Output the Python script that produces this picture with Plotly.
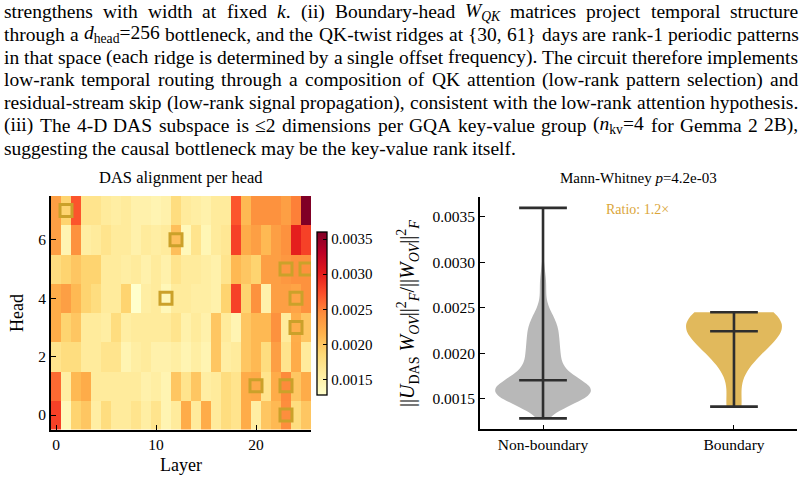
import re
import numpy as np
import plotly.graph_objects as go

# ---------------- data ----------------
layers = list(range(26))
heads = list(range(8))

# DAS alignment per head: rows = head 0..7, columns = layer 0..25
das_alignment = [
    [0.0028, 0.0014, 0.0019, 0.0020, 0.00155, 0.0018, 0.0016, 0.0016, 0.0017, 0.00155, 0.0017, 0.00145, 0.0016,
     0.0022, 0.0016, 0.0022, 0.0016, 0.0018, 0.0017, 0.0022, 0.00155, 0.0020, 0.0021, 0.00243, 0.0018, 0.0020],
    [0.0026, 0.00155, 0.0021, 0.0022, 0.0016, 0.0016, 0.0016, 0.0016, 0.0016, 0.0015, 0.00155, 0.00145, 0.0020,
     0.0017, 0.0020, 0.00155, 0.0016, 0.0018, 0.0017, 0.0022, 0.00222, 0.0017, 0.0022, 0.00245, 0.0020, 0.0022],
    [0.0017, 0.0018, 0.0018, 0.0016, 0.0016, 0.0017, 0.0017, 0.00145, 0.00155, 0.0016, 0.0015, 0.0015, 0.00155,
     0.00145, 0.00155, 0.00145, 0.0020, 0.00155, 0.0016, 0.0020, 0.0021, 0.0018, 0.0023, 0.0017, 0.0022, 0.0016],
    [0.0022, 0.0019, 0.0020, 0.0016, 0.0016, 0.00155, 0.0018, 0.00155, 0.0016, 0.0016, 0.0016, 0.0016, 0.0017,
     0.0015, 0.0016, 0.0015, 0.0020, 0.0016, 0.00145, 0.0020, 0.0021, 0.0021, 0.0024, 0.0016, 0.00218, 0.0020],
    [0.0022, 0.0023, 0.0021, 0.0019, 0.0018, 0.0016, 0.0016, 0.0019, 0.00128, 0.00155, 0.0016, 0.00141, 0.0016,
     0.0016, 0.00155, 0.00155, 0.0015, 0.0019, 0.0028, 0.0019, 0.0024, 0.0015, 0.0023, 0.0023, 0.00226, 0.0024],
    [0.0018, 0.0019, 0.0020, 0.0019, 0.0019, 0.0016, 0.0016, 0.00155, 0.0016, 0.0015, 0.0016, 0.0015, 0.0017,
     0.0016, 0.0016, 0.00155, 0.0015, 0.0017, 0.0021, 0.0020, 0.0019, 0.0023, 0.0023, 0.00235, 0.0024, 0.00240],
    [0.0023, 0.00145, 0.0024, 0.00155, 0.0016, 0.0017, 0.0016, 0.0016, 0.0015, 0.0016, 0.00155, 0.0016, 0.00205,
     0.0014, 0.0017, 0.00143, 0.0016, 0.00165, 0.0028, 0.0022, 0.0023, 0.0021, 0.0023, 0.0024, 0.0030, 0.0028],
    [0.0023, 0.0019, 0.0027, 0.0017, 0.0017, 0.0016, 0.00155, 0.0016, 0.0015, 0.0015, 0.00145, 0.0015, 0.0018,
     0.0016, 0.00155, 0.0015, 0.0016, 0.0016, 0.0027, 0.0021, 0.0024, 0.0024, 0.0024, 0.0023, 0.0025, 0.0036],
]

# boundary heads (layer, head)
boundary_layers = [1, 12, 11, 23, 25, 24, 24, 20, 23, 23]
boundary_heads = [7, 6, 4, 5, 5, 4, 3, 1, 1, 0]

group_labels = ["Non-boundary", "Boundary"]
colorbar_ticks = [0.0015, 0.0020, 0.0025, 0.0030, 0.0035]
violin_ticks = [0.0015, 0.0020, 0.0025, 0.0030, 0.0035]

heat_title = "DAS alignment per head"
violin_title = "Mann-Whitney <i>p</i>=4.2e-03"
ratio_text = "Ratio: 1.2×"

body_lines = [
    "strengthens with width at fixed <i>k</i>. (ii) Boundary-head <i>W</i><sub><i>QK</i></sub> matrices project temporal structure",
    "through a <i>d</i><sub>head</sub>=256 bottleneck, and the QK-twist ridges at {30, 61} days are rank-1 periodic patterns",
    "in that space (each ridge is determined by a single offset frequency). The circuit therefore implements",
    "low-rank temporal routing through a composition of QK attention (low-rank pattern selection) and",
    "residual-stream skip (low-rank signal propagation), consistent with the low-rank attention hypothesis.",
    "(iii) The 4-D DAS subspace is ≤2 dimensions per GQA key-value group (<i>n</i><sub>kv</sub>=4 for Gemma 2 2B),",
    "suggesting the causal bottleneck may be the key-value rank itself.",
]
body_justified = [True, True, True, True, True, True, False]

# ---------------- derived ----------------
Z = np.array(das_alignment)
mask = np.zeros_like(Z, dtype=bool)
for l, h in zip(boundary_layers, boundary_heads):
    mask[h, l] = True
groups = [Z[~mask], Z[mask]]

W, H = 807, 483
FONT = "Liberation Serif, Times New Roman, serif"
GRAY = "#b8b8b8"
GOLD = "#e1b95c"
BOX = "#cba12a"
LINE = "#2e2e2e"

# Times-Roman advance widths (1/1000 em) for text justification
ROMAN = {' ': 250, '!': 333, '(': 333, ')': 333, ',': 250, '-': 333, '.': 250, '/': 278, ':': 278,
         ';': 278, '=': 564, '{': 480, '}': 480, '≤': 549, '×': 564,
         'A': 722, 'B': 667, 'C': 667, 'D': 722, 'E': 611, 'F': 556, 'G': 722, 'H': 722, 'I': 333,
         'J': 389, 'K': 722, 'L': 611, 'M': 889, 'N': 722, 'O': 722, 'P': 556, 'Q': 722, 'R': 667,
         'S': 556, 'T': 611, 'U': 722, 'V': 722, 'W': 944, 'X': 722, 'Y': 722, 'Z': 611,
         'a': 444, 'b': 500, 'c': 444, 'd': 500, 'e': 444, 'f': 333, 'g': 500, 'h': 500, 'i': 278,
         'j': 278, 'k': 500, 'l': 278, 'm': 778, 'n': 500, 'o': 500, 'p': 500, 'q': 500, 'r': 333,
         's': 389, 't': 278, 'u': 500, 'v': 500, 'w': 722, 'x': 500, 'y': 500, 'z': 444}
for d in '0123456789':
    ROMAN[d] = 500
ITALIC = {'k': 444, 'W': 833, 'Q': 722, 'K': 667, 'd': 500, 'n': 500}


def word_width(word, size):
    italic = False
    small = False
    w = 0.0
    for tok in re.split(r'(<[^>]+>)', word):
        if tok.startswith('<'):
            name = tok.strip('<>/')
            on = not tok.startswith('</')
            if name == 'i':
                italic = on
            elif name in ('sub', 'sup'):
                small = on
            continue
        for ch in tok:
            cw = ITALIC[ch] if (italic and ch in ITALIC) else ROMAN.get(ch, 500)
            w += cw / 1000.0 * size * (0.7 if small else 1.0)
    return w


def px_x(p):
    return p / W


def px_y(p):
    return 1 - p / H


fig = go.Figure()

# heatmap
fig.add_trace(go.Heatmap(
    z=Z, x=layers, y=heads, colorscale="YlOrRd",
    zmin=float(Z.min()), zmax=float(Z.max()),
    xaxis="x", yaxis="y", showscale=True,
    colorbar=dict(
        x=px_x(317), xanchor="left", y=px_y(313.5), yanchor="middle",
        len=163 / H, lenmode="fraction", thickness=10, thicknessmode="pixels",
        outlinecolor="black", outlinewidth=1.3, xpad=0, ypad=0,
        tickvals=colorbar_ticks, tickformat=".4f", ticks="inside", ticklen=4,
        tickcolor="black", tickwidth=1.2,
        tickfont=dict(family=FONT, size=15, color="black"),
    ),
))

fig.add_trace(go.Scatter(
    x=boundary_layers, y=boundary_heads, mode="markers", xaxis="x", yaxis="y",
    marker=dict(symbol="square-open", size=12, color=BOX, line=dict(width=3, color=BOX)),
    showlegend=False, hoverinfo="skip",
))

# violins
fills = [GRAY, GOLD]
for i, vals in enumerate(groups):
    bw = float(np.std(vals, ddof=1) * len(vals) ** (-0.2))
    fig.add_trace(go.Violin(
        x=[i] * len(vals), y=vals, xaxis="x2", yaxis="y2",
        width=0.5, scalemode="width", spanmode="hard", bandwidth=bw,
        fillcolor=fills[i], line=dict(width=0, color=fills[i]), opacity=1,
        points=False, box_visible=False, meanline_visible=False,
        showlegend=False, hoverinfo="skip", side="both",
    ))

lx, ly = [], []
for i, vals in enumerate(groups):
    lo, hi, med = float(vals.min()), float(vals.max()), float(np.median(vals))
    lx += [i, i, None]
    ly += [lo, hi, None]
    for v in (lo, hi, med):
        lx += [i - 0.125, i + 0.125, None]
        ly += [v, v, None]
fig.add_trace(go.Scatter(
    x=lx, y=ly, mode="lines", xaxis="x2", yaxis="y2",
    line=dict(color=LINE, width=2.6), showlegend=False, hoverinfo="skip",
))

axis_common = dict(
    showgrid=False, zeroline=False, showline=True, linecolor="black", linewidth=1.6,
    ticks="inside", ticklen=5, tickwidth=1.4, tickcolor="black",
    tickfont=dict(family=FONT, size=15.5, color="black"), mirror=False,
)

fig.update_layout(
    width=W, height=H, margin=dict(l=0, r=0, t=0, b=0),
    paper_bgcolor="white", plot_bgcolor="white", showlegend=False,
    xaxis=dict(domain=[px_x(51), px_x(311)], range=[-0.5, 25.5], tickvals=[0, 10, 20],
               anchor="y", **axis_common),
    yaxis=dict(domain=[px_y(429.6), px_y(196)], range=[-0.5, 7.5], tickvals=[0, 2, 4, 6],
               anchor="x", **axis_common),
    xaxis2=dict(domain=[px_x(480), px_x(797)], range=[-0.33, 1.33], tickvals=[0, 1],
                ticktext=group_labels, anchor="y2", **axis_common),
    yaxis2=dict(domain=[px_y(429.3), px_y(197)], range=[0.00116, 0.00372], tickvals=violin_ticks,
                tickformat=".4f", anchor="x2", **axis_common),
)

ann = []
BODY_SIZE = 19.5
LEFT, RIGHT = 3.0, 797.5
for k, (line, just) in enumerate(zip(body_lines, body_justified)):
    words = line.split(' ')
    widths = [word_width(wd, BODY_SIZE) for wd in words]
    if just and len(words) > 1:
        gap = (RIGHT - LEFT - sum(widths)) / (len(words) - 1)
        gap = max(gap, 0.18 * BODY_SIZE)
    else:
        gap = 0.25 * BODY_SIZE
    xpos = LEFT
    for wd, ww in zip(words, widths):
        ann.append(dict(text=wd, x=px_x(xpos), y=px_y(11.5 + 22.8 * k), xref="paper", yref="paper",
                        xanchor="left", yanchor="middle", showarrow=False, borderpad=0,
                        font=dict(family=FONT, size=BODY_SIZE, color="black")))
        xpos += ww + gap

ann.append(dict(text=heat_title, x=px_x(181), y=px_y(178), xref="paper", yref="paper",
                xanchor="center", yanchor="middle", showarrow=False,
                font=dict(family=FONT, size=16.5, color="black")))
ann.append(dict(text=violin_title, x=px_x(638), y=px_y(178), xref="paper", yref="paper",
                xanchor="center", yanchor="middle", showarrow=False,
                font=dict(family=FONT, size=15, color="black")))
ann.append(dict(text=ratio_text, x=px_x(637), y=px_y(210), xref="paper", yref="paper",
                xanchor="center", yanchor="middle", showarrow=False,
                font=dict(family=FONT, size=14, color="#dba63a")))
ann.append(dict(text="Layer", x=px_x(181), y=px_y(465), xref="paper", yref="paper",
                xanchor="center", yanchor="middle", showarrow=False,
                font=dict(family=FONT, size=18, color="black")))
ann.append(dict(text="Head", x=px_x(17), y=px_y(313), xref="paper", yref="paper",
                xanchor="center", yanchor="middle", showarrow=False, textangle=-90,
                font=dict(family=FONT, size=18, color="black")))
ann.append(dict(text="||<i>U</i><sub>DAS</sub> <i>W</i><sub><i>OV</i></sub>||<sup>2</sup><sub><i>F</i></sub>/||<i>W</i><sub><i>OV</i></sub>||<sup>2</sup><sub><i>F</i></sub>",
                x=px_x(408), y=px_y(313), xref="paper", yref="paper",
                xanchor="center", yanchor="middle", showarrow=False, textangle=-90,
                font=dict(family=FONT, size=20, color="black")))
fig.update_layout(annotations=ann)

fig.write_html("out.html")
